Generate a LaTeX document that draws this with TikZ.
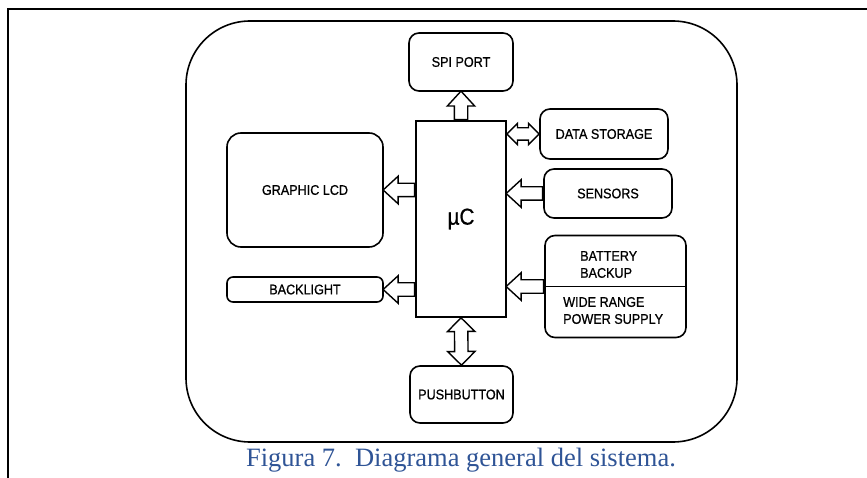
\documentclass[tikz,border=0pt]{standalone}
\usepackage{fontspec}
\setmainfont{Liberation Sans}
\newfontfamily\boxfont[FakeStretch=0.9, FakeBold=0.8]{Liberation Sans}
\newfontfamily\capfont{Liberation Serif}
\usetikzlibrary{shapes.arrows,calc}
\definecolor{capblue}{RGB}{47,84,150}

\tikzset{
  box/.style={draw, line width=1.6pt, rounded corners=10pt, inner sep=0pt,
    font=\boxfont\fontsize{14}{17}\selectfont},
  fatone/.style={draw, line width=1.4pt, fill=white, single arrow, inner xsep=0pt,
    inner ysep=6pt, single arrow head extend=7pt, single arrow tip angle=85},
  fattwo/.style={draw, line width=1.4pt, fill=white, double arrow, inner xsep=0pt,
    inner ysep=6pt, double arrow head extend=7pt, double arrow tip angle=90},
  fat/.style={to path={let \p1=($(\tikztotarget)-(\tikztostart)$) in
    node[fatone, minimum height={veclen(\x1,\y1)}, rotate={atan2(\y1,\x1)},
      anchor=tail] at (\tikztostart) {} (\tikztotarget)}},
  fatboth/.style={to path={let \p1=($(\tikztotarget)-(\tikztostart)$) in
    node[fattwo, minimum height={veclen(\x1,\y1)}, rotate={atan2(\y1,\x1)},
      anchor=center] at ($(\tikztostart)!.5!(\tikztotarget)$) {} (\tikztotarget)}},
}

\begin{document}
\begin{tikzpicture}[x=1pt, y=-1pt]
  \useasboundingbox (0,0) rectangle (867,478);
  % page frame and board
  \draw[line width=2.2pt] (8,478) -- (8,9) -- (867,9);
  \draw[line width=1.6pt, rounded corners=64pt] (186,21) rectangle (737,442);

  % blocks
  \node[box, rounded corners=0pt, minimum width=90pt, minimum height=196pt,
    font=\boxfont\fontsize{23}{24}\selectfont] (mc) at (461,219) {µC};
  \node[box, minimum width=104pt, minimum height=58pt] (spi) at (461,62) {SPI PORT};
  \node[box, minimum width=128pt, minimum height=50pt] (ds) at (604,134) {DATA STORAGE};
  \node[box, minimum width=128pt, minimum height=49pt] (sens) at (608,193.5) {SENSORS};
  \node[box, minimum width=141pt, minimum height=102pt] (pwr) at (615.5,286.5) {};
  \node[box, rounded corners=14pt, minimum width=156pt, minimum height=114pt] (lcd) at (305,190) {GRAPHIC LCD};
  \node[box, rounded corners=6pt, minimum width=156pt, minimum height=25pt] (bl) at (305,289.5) {BACKLIGHT};
  \node[box, minimum width=103pt, minimum height=57pt] (pb) at (461.5,394.5) {PUSHBUTTON};

  % power block halves
  \draw[line width=1.6pt] (pwr.west) -- (pwr.east);
  \node[align=left, anchor=west, inner sep=0pt, font=\boxfont\fontsize{14}{17}\selectfont] (bat)
    at (580,264.5) {BATTERY\\BACKUP};
  \node[align=left, anchor=west, inner sep=0pt, font=\boxfont\fontsize{14}{17}\selectfont] (wide)
    at (563,310.5) {WIDE RANGE\\POWER SUPPLY};

  % bus arrows
  \path (mc.north) to[fat] (spi.south);
  \path[fattwo/.append style={inner ysep=5.5pt, double arrow head extend=4.5pt}]
    (mc.east |- ds.west) to[fatboth] (ds.west);
  \path (sens.west) to[fat] (mc.east |- sens.west);
  \path (pwr.west) to[fat] (mc.east |- pwr.west);
  \path (mc.west |- lcd.east) to[fat] (lcd.east);
  \path (mc.west |- bl.east) to[fat] (bl.east);
  \path (mc.south) to[fatboth] (pb.north);

  \node[font=\capfont\fontsize{26.5}{30}\selectfont, text=capblue, anchor=base] (cap)
    at (461,466) {Figura 7.\ \ Diagrama general del sistema.};
\end{tikzpicture}
\end{document}
